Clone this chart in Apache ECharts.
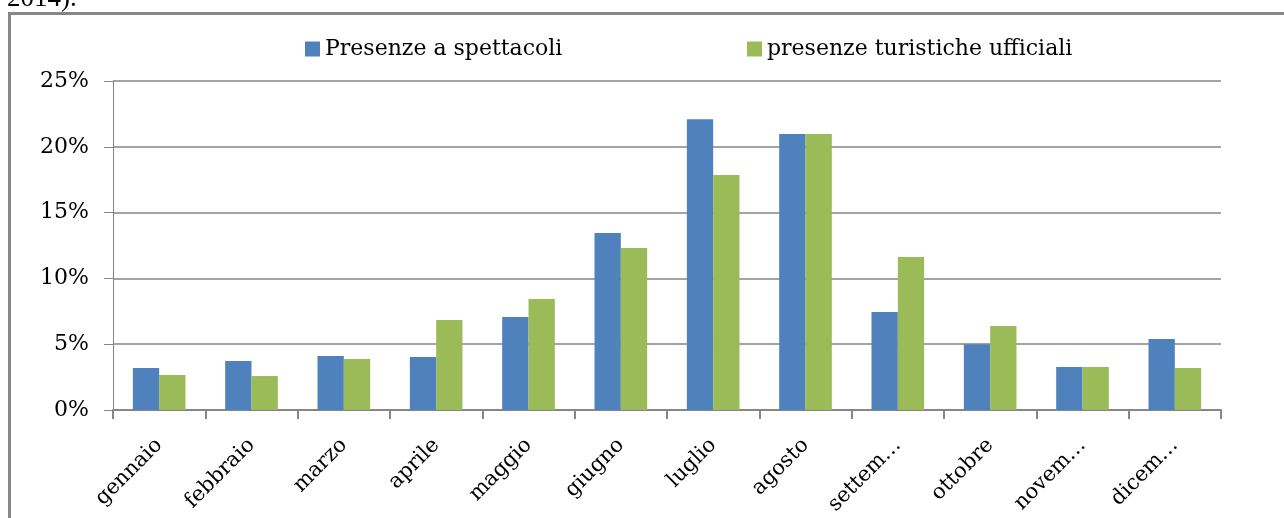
<!DOCTYPE html>
<html>
<head>
<meta charset="utf-8">
<script src="https://cdn.jsdelivr.net/npm/echarts@6/dist/echarts.min.js"></script>
<style>
  html, body { margin: 0; padding: 0; background: #fff; }
  #chart { width: 1284px; height: 518px; }
</style>
</head>
<body>
<div id="chart"></div>
<script>
const months = ['gennaio', 'febbraio', 'marzo', 'aprile', 'maggio', 'giugno',
  'luglio', 'agosto', 'settem…', 'ottobre', 'novem…', 'dicem…'];
const spettacoli = [3.19, 3.72, 4.1, 4.03, 7.07, 13.45, 22.1, 20.97, 7.45, 5.0, 3.27, 5.4];
const turistiche = [2.66, 2.58, 3.88, 6.84, 8.43, 12.31, 17.86, 20.97, 11.63, 6.38, 3.27, 3.19];
const seriesNames = ['Presenze a spettacoli', 'presenze turistiche ufficiali'];

const serif = 'DejaVu Serif';
const axisGray = '#868686';

const chart = echarts.init(document.getElementById('chart'));
chart.setOption({
  animation: false,
  color: ['#4F81BD', '#9BBB59'],
  graphic: [
    {
      type: 'rect',
      shape: { x: 9.5, y: 13.5, width: 1400, height: 600 },
      style: { fill: 'none', stroke: '#878787', lineWidth: 3 }
    },
    {
      type: 'text',
      x: 7, y: 12,
      style: { text: '2014).', font: '27px "Liberation Serif"', fill: '#000', verticalAlign: 'bottom' }
    }
  ],
  legend: [
    {
      data: [seriesNames[0]], left: 300, top: 33,
      icon: 'rect', itemWidth: 15, itemHeight: 15, itemGap: 6,
      textStyle: { fontFamily: serif, fontSize: 22, color: '#000' }
    },
    {
      data: [seriesNames[1]], left: 742, top: 33,
      icon: 'rect', itemWidth: 15, itemHeight: 15, itemGap: 6,
      textStyle: { fontFamily: serif, fontSize: 22, color: '#000' }
    }
  ],
  grid: { left: 113, right: 63, top: 81, bottom: 108, containLabel: false },
  xAxis: {
    type: 'category',
    data: months,
    axisLine: { lineStyle: { color: axisGray, width: 2 } },
    axisTick: { show: true, length: 9, alignWithLabel: false, lineStyle: { color: axisGray, width: 2 } },
    axisLabel: { interval: 0, rotate: 45, margin: 32, fontFamily: serif, fontSize: 21, color: '#000' }
  },
  yAxis: {
    type: 'value',
    min: 0, max: 25, interval: 5,
    axisLine: { show: true, lineStyle: { color: axisGray, width: 1 } },
    axisTick: { show: true, length: 9, lineStyle: { color: axisGray } },
    splitLine: { lineStyle: { color: axisGray, width: 1.5 } },
    axisLabel: { formatter: '{value}%', margin: 24, fontFamily: serif, fontSize: 22, color: '#000' }
  },
  series: [
    { name: seriesNames[0], type: 'bar', data: spettacoli, barGap: '0%', barCategoryGap: '43%' },
    { name: seriesNames[1], type: 'bar', data: turistiche, barGap: '0%', barCategoryGap: '43%' }
  ]
});
</script>
</body>
</html>
